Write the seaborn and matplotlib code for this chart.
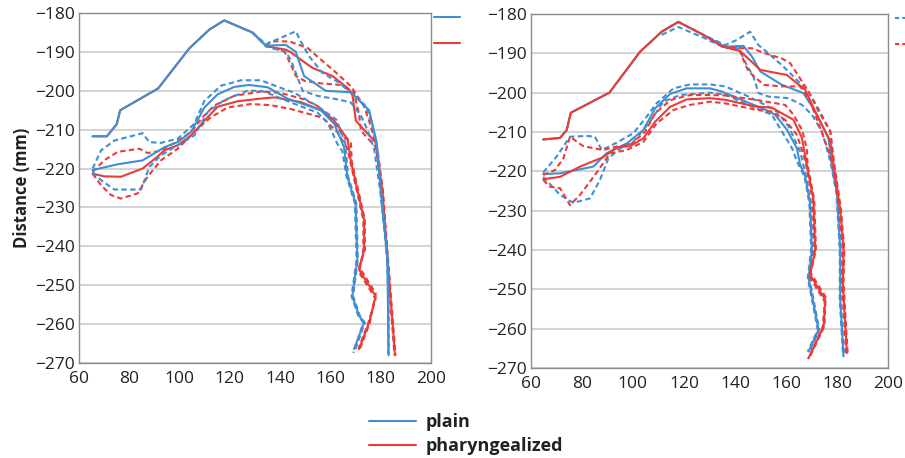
import numpy as np
import pandas as pd
import matplotlib
matplotlib.use("Agg")
import matplotlib.pyplot as plt
from matplotlib.lines import Line2D
import seaborn as sns

# ---------------- data ----------------
conditions = ["plain", "pharyngealized"]
x_ticks = [60, 80, 100, 120, 140, 160, 180, 200]
y_ticks = [-270, -260, -250, -240, -230, -220, -210, -200, -190, -180]

# ---- Left panel: upper contour set ----
A_up_plain_mean_x = [65.4, 71.1, 75.0, 76.4, 91.5, 103.9, 111.8, 117.8, 129.0, 134.4, 142.3, 146.3, 149.6, 158.2, 168.2, 175.5, 178.5, 180.1, 182.8, 183.2]
A_up_plain_mean_y = [-211.7, -211.7, -208.6, -205.0, -199.4, -189.1, -184.3, -181.9, -185.0, -188.4, -188.2, -190.0, -196.2, -200.0, -200.4, -205.0, -213.3, -225.7, -243.0, -268.0]
A_up_phar_mean_x = [65.4, 71.1, 75.0, 76.4, 91.5, 103.9, 111.8, 117.8, 129.0, 134.4, 138.3, 142.3, 144.3, 148.3, 152.9, 160.9, 167.5, 168.9, 170.2, 178.1, 180.8, 182.8, 185.8]
A_up_phar_mean_y = [-211.7, -211.7, -208.6, -205.0, -199.4, -189.1, -184.3, -181.9, -185.0, -188.4, -189.0, -189.4, -190.1, -192.0, -194.1, -196.2, -199.6, -201.3, -207.7, -213.3, -225.7, -243.0, -268.0]
A_up_plain_hi_x = [129.0, 134.4, 140.3, 146.3, 148.3, 151.6, 156.9, 163.5, 168.2, 174.2, 176.8, 178.8, 180.3, 182.9, 183.3, 183.3]
A_up_plain_hi_y = [-185.0, -188.0, -186.4, -184.7, -187.3, -191.1, -195.4, -197.9, -200.5, -203.9, -209.0, -215.0, -225.7, -243.0, -255.0, -267.8]
A_up_plain_lo_x = [129.0, 134.4, 142.3, 144.3, 147.0, 149.0, 154.9, 162.9, 168.2, 172.2, 174.8, 177.5, 179.9, 182.7, 183.1, 183.1]
A_up_plain_lo_y = [-185.0, -188.6, -190.0, -192.0, -196.6, -200.0, -201.3, -202.2, -203.0, -206.4, -210.0, -215.0, -225.7, -243.0, -255.0, -267.8]
A_up_phar_hi_x = [134.4, 136.4, 143.7, 151.0, 156.3, 160.9, 168.2, 173.5, 176.1, 178.8, 181.0, 183.0, 186.0]
A_up_phar_hi_y = [-188.4, -187.3, -187.3, -189.0, -192.0, -194.5, -198.8, -204.0, -209.0, -215.0, -225.7, -243.0, -268.0]
A_up_phar_lo_x = [134.4, 141.7, 143.7, 146.3, 150.0, 156.3, 164.2, 169.5, 171.5, 172.2, 178.1, 180.6, 182.6, 185.6]
A_up_phar_lo_y = [-188.4, -189.8, -192.4, -196.2, -197.5, -198.1, -198.5, -200.7, -206.0, -210.2, -214.5, -225.7, -243.0, -268.0]

# ---- Left panel: lower contour set ----
A_lo_plain_mean_x = [65.4, 70.0, 75.4, 85.3, 94.0, 99.3, 104.6, 109.9, 115.2, 121.8, 127.8, 135.1, 143.0, 156.3, 161.6, 165.5, 166.8, 170.1, 170.8, 168.8, 171.5, 173.5, 169.5]
A_lo_plain_mean_y = [-220.4, -219.7, -218.9, -217.9, -214.5, -213.2, -210.6, -204.3, -200.9, -199.0, -198.5, -199.1, -202.0, -205.0, -208.5, -214.5, -222.0, -228.9, -243.4, -252.8, -257.9, -259.6, -266.4]
A_lo_phar_mean_x = [65.4, 70.0, 76.7, 85.3, 91.3, 94.0, 99.3, 104.6, 109.9, 115.2, 123.1, 132.4, 137.7, 148.3, 156.3, 161.6, 166.9, 168.2, 173.5, 173.5, 171.5, 178.1, 175.5, 171.5]
A_lo_phar_mean_y = [-221.3, -222.0, -222.1, -220.0, -216.9, -215.3, -214.0, -211.5, -207.7, -204.1, -202.7, -202.0, -201.7, -202.9, -205.0, -207.7, -212.4, -218.0, -233.2, -240.9, -246.0, -252.8, -259.6, -266.4]
A_lo_plain_hi_x = [65.4, 68.8, 74.1, 85.3, 88.0, 92.6, 99.3, 105.9, 109.9, 116.5, 124.5, 132.4, 136.4, 145.6, 154.9, 160.2, 162.6, 166.0, 167.1, 170.4, 171.0, 169.1, 171.8, 173.8, 169.8]
A_lo_plain_hi_y = [-220.0, -215.3, -212.8, -210.9, -213.2, -213.4, -212.3, -208.5, -202.6, -198.7, -197.3, -197.3, -198.3, -200.5, -203.9, -206.4, -207.5, -213.5, -222.0, -228.9, -243.4, -252.8, -257.9, -259.6, -266.8]
A_lo_plain_lo_x = [65.4, 68.8, 74.1, 84.7, 88.0, 92.6, 99.3, 105.9, 111.2, 117.8, 127.1, 132.4, 136.4, 144.3, 154.9, 158.9, 162.9, 164.8, 166.5, 169.8, 170.5, 168.5, 171.2, 173.2, 169.2]
A_lo_plain_lo_y = [-220.9, -223.0, -225.4, -225.4, -219.6, -216.6, -214.0, -211.5, -205.5, -202.4, -200.0, -200.0, -200.9, -203.0, -205.6, -208.1, -213.7, -215.5, -222.0, -228.9, -243.4, -252.8, -257.9, -259.6, -267.4]
A_lo_phar_hi_x = [65.4, 70.0, 75.4, 84.0, 87.3, 92.0, 98.0, 104.6, 109.2, 113.8, 121.8, 132.4, 140.0, 149.6, 154.9, 160.9, 165.5, 168.2, 168.6, 173.8, 173.8, 171.5, 178.1, 175.8, 171.8]
A_lo_phar_hi_y = [-220.9, -217.9, -215.7, -214.9, -216.0, -215.5, -213.4, -210.6, -206.8, -203.8, -201.3, -200.2, -200.5, -202.2, -203.9, -207.3, -212.0, -213.2, -218.3, -233.2, -240.9, -245.3, -252.1, -259.6, -266.4]
A_lo_phar_lo_x = [65.4, 68.8, 72.7, 76.7, 83.3, 87.3, 92.6, 99.3, 107.2, 112.5, 119.2, 128.4, 136.4, 144.3, 156.9, 162.9, 166.9, 167.9, 173.2, 173.2, 171.5, 178.1, 175.2, 171.2]
A_lo_phar_lo_y = [-221.3, -224.3, -226.8, -227.7, -226.4, -222.1, -217.9, -214.9, -209.8, -206.8, -204.3, -203.4, -203.7, -204.7, -206.9, -210.7, -214.9, -218.0, -233.2, -240.9, -246.7, -253.5, -259.6, -266.4]

# ---- Right panel: upper contour set ----
B_up_plain_mean_x = [64.9, 71.5, 74.1, 75.7, 90.8, 102.8, 111.3, 117.8, 127.6, 136.1, 143.3, 146.6, 149.9, 158.3, 166.8, 171.4, 176.6, 177.9, 179.9, 181.2, 181.2, 182.5]
B_up_plain_mean_y = [-211.9, -211.5, -209.5, -205.1, -200.0, -189.6, -184.5, -182.0, -185.3, -188.3, -188.1, -190.8, -194.6, -198.0, -200.1, -204.8, -211.5, -218.3, -225.5, -239.9, -252.6, -267.0]
B_up_phar_mean_x = [64.9, 71.5, 74.1, 75.7, 90.8, 102.8, 111.3, 117.8, 127.6, 134.8, 142.0, 149.9, 160.3, 167.5, 171.4, 177.3, 178.6, 181.2, 182.5, 182.2, 183.8]
B_up_phar_mean_y = [-211.9, -211.5, -209.5, -205.1, -200.0, -189.6, -184.5, -182.0, -185.3, -188.2, -189.4, -194.2, -195.5, -199.3, -204.8, -212.4, -218.3, -229.7, -239.9, -248.4, -266.2]
B_up_plain_hi_x = [111.3, 117.8, 127.6, 136.1, 140.7, 145.9, 149.2, 153.8, 159.0, 164.9, 168.8, 172.7, 177.3, 178.2, 180.1, 181.4, 181.4, 182.7]
B_up_plain_hi_y = [-184.5, -182.0, -185.3, -187.9, -186.6, -184.5, -187.9, -190.4, -193.4, -197.2, -199.7, -204.8, -209.8, -216.0, -225.5, -239.9, -252.6, -267.0]
B_up_plain_lo_x = [111.3, 117.8, 127.6, 136.1, 141.4, 144.6, 147.2, 149.2, 153.1, 161.0, 166.2, 170.1, 174.0, 176.6, 177.6, 179.7, 181.0, 181.0, 182.3]
B_up_plain_lo_y = [-185.3, -183.3, -186.0, -188.6, -188.7, -193.0, -195.9, -200.1, -201.0, -201.4, -203.1, -205.6, -209.8, -215.7, -218.3, -225.5, -239.9, -252.6, -267.0]
B_up_phar_hi_x = [134.8, 142.7, 146.6, 151.8, 158.3, 161.6, 167.5, 172.1, 177.3, 178.9, 181.5, 182.8, 182.5, 184.1]
B_up_phar_hi_y = [-188.2, -188.7, -188.7, -190.0, -191.3, -192.5, -198.4, -203.5, -209.8, -218.3, -229.7, -239.9, -248.4, -266.2]
B_up_phar_lo_x = [134.8, 142.0, 143.3, 145.3, 151.2, 158.3, 165.5, 168.8, 171.4, 175.3, 178.3, 180.9, 182.2, 181.9, 183.5]
B_up_phar_lo_y = [-188.2, -189.4, -191.7, -194.6, -198.0, -198.4, -198.4, -201.4, -205.6, -212.4, -218.3, -229.7, -239.9, -248.4, -266.2]

# ---- Right panel: lower contour set ----
B_lo_plain_mean_x = [64.9, 71.5, 84.5, 89.7, 97.6, 104.1, 108.7, 114.6, 121.1, 130.2, 134.8, 144.0, 151.8, 155.7, 160.3, 164.2, 165.5, 167.5, 169.4, 170.1, 168.8, 172.7, 168.8]
B_lo_plain_mean_y = [-220.7, -220.5, -218.8, -215.4, -212.9, -209.5, -204.0, -200.3, -198.9, -198.9, -199.7, -202.2, -204.3, -205.6, -209.4, -214.1, -218.3, -221.3, -228.1, -239.9, -247.1, -260.3, -265.8]
B_lo_phar_mean_x = [64.9, 71.5, 79.3, 88.4, 93.7, 98.9, 104.1, 108.7, 114.6, 121.1, 130.2, 136.1, 147.9, 154.4, 162.9, 166.2, 168.1, 170.7, 171.4, 169.4, 175.3, 174.7, 168.8]
B_lo_phar_mean_y = [-222.0, -221.4, -218.8, -216.4, -213.9, -213.6, -211.6, -207.4, -203.6, -201.7, -201.4, -201.8, -203.5, -203.8, -206.9, -211.5, -218.3, -227.2, -239.9, -246.3, -252.6, -259.4, -267.5]
B_lo_plain_hi_x = [64.9, 70.1, 75.4, 81.9, 85.2, 87.8, 93.7, 100.2, 105.4, 109.3, 115.9, 122.4, 130.2, 136.1, 145.3, 151.8, 156.4, 161.0, 165.5, 167.8, 169.7, 170.4, 169.1, 173.0, 169.1]
B_lo_plain_hi_y = [-220.3, -216.3, -211.2, -211.0, -211.2, -214.6, -212.7, -210.3, -206.1, -202.7, -198.9, -197.9, -197.9, -198.4, -201.0, -203.1, -204.8, -208.6, -214.9, -221.3, -228.1, -239.9, -247.1, -260.3, -265.8]
B_lo_plain_lo_x = [64.9, 71.5, 76.7, 83.2, 87.1, 90.4, 95.0, 100.2, 106.7, 111.9, 118.5, 130.2, 136.1, 147.9, 154.4, 158.3, 162.3, 164.2, 167.2, 169.1, 169.8, 168.5, 172.4, 168.5]
B_lo_plain_lo_y = [-221.4, -226.0, -228.0, -226.9, -222.2, -216.7, -214.2, -212.5, -207.4, -202.3, -200.6, -200.0, -200.5, -203.9, -205.6, -209.8, -214.1, -217.4, -221.3, -228.1, -239.9, -247.1, -260.3, -265.8]
B_lo_phar_hi_x = [64.9, 69.5, 72.8, 75.4, 80.6, 88.4, 93.7, 98.9, 104.8, 108.7, 114.6, 122.4, 130.2, 136.1, 147.9, 159.6, 162.9, 166.2, 168.1, 168.4, 171.0, 171.7, 169.6, 175.5, 175.0, 169.0]
B_lo_phar_hi_y = [-220.9, -219.7, -216.7, -211.2, -213.6, -214.6, -213.7, -213.3, -209.9, -205.3, -201.9, -200.6, -200.6, -200.7, -201.8, -203.1, -205.6, -209.4, -214.1, -218.3, -227.2, -239.9, -245.8, -252.0, -259.4, -267.5]
B_lo_phar_lo_x = [64.9, 67.5, 71.5, 75.4, 79.3, 85.2, 91.1, 97.6, 104.1, 109.3, 115.9, 122.4, 130.2, 136.1, 147.9, 154.4, 159.6, 164.2, 166.8, 167.8, 170.4, 171.1, 169.2, 175.1, 174.4, 168.6]
B_lo_phar_lo_y = [-222.2, -223.9, -224.3, -228.6, -226.0, -220.9, -215.4, -214.6, -212.5, -207.8, -204.4, -203.1, -202.3, -202.7, -204.3, -204.8, -206.9, -210.7, -215.7, -218.3, -227.2, -239.9, -246.8, -253.1, -259.4, -267.7]

# ---------------- build tidy table ----------------
curves = [
    ("A", "up", "plain", "mean", A_up_plain_mean_x, A_up_plain_mean_y),
    ("A", "up", "pharyngealized", "mean", A_up_phar_mean_x, A_up_phar_mean_y),
    ("A", "up", "plain", "hi", A_up_plain_hi_x, A_up_plain_hi_y),
    ("A", "up", "plain", "lo", A_up_plain_lo_x, A_up_plain_lo_y),
    ("A", "up", "pharyngealized", "hi", A_up_phar_hi_x, A_up_phar_hi_y),
    ("A", "up", "pharyngealized", "lo", A_up_phar_lo_x, A_up_phar_lo_y),
    ("A", "lo", "plain", "mean", A_lo_plain_mean_x, A_lo_plain_mean_y),
    ("A", "lo", "pharyngealized", "mean", A_lo_phar_mean_x, A_lo_phar_mean_y),
    ("A", "lo", "plain", "hi", A_lo_plain_hi_x, A_lo_plain_hi_y),
    ("A", "lo", "plain", "lo", A_lo_plain_lo_x, A_lo_plain_lo_y),
    ("A", "lo", "pharyngealized", "hi", A_lo_phar_hi_x, A_lo_phar_hi_y),
    ("A", "lo", "pharyngealized", "lo", A_lo_phar_lo_x, A_lo_phar_lo_y),
    ("B", "up", "plain", "mean", B_up_plain_mean_x, B_up_plain_mean_y),
    ("B", "up", "pharyngealized", "mean", B_up_phar_mean_x, B_up_phar_mean_y),
    ("B", "up", "plain", "hi", B_up_plain_hi_x, B_up_plain_hi_y),
    ("B", "up", "plain", "lo", B_up_plain_lo_x, B_up_plain_lo_y),
    ("B", "up", "pharyngealized", "hi", B_up_phar_hi_x, B_up_phar_hi_y),
    ("B", "up", "pharyngealized", "lo", B_up_phar_lo_x, B_up_phar_lo_y),
    ("B", "lo", "plain", "mean", B_lo_plain_mean_x, B_lo_plain_mean_y),
    ("B", "lo", "pharyngealized", "mean", B_lo_phar_mean_x, B_lo_phar_mean_y),
    ("B", "lo", "plain", "hi", B_lo_plain_hi_x, B_lo_plain_hi_y),
    ("B", "lo", "plain", "lo", B_lo_plain_lo_x, B_lo_plain_lo_y),
    ("B", "lo", "pharyngealized", "hi", B_lo_phar_hi_x, B_lo_phar_hi_y),
    ("B", "lo", "pharyngealized", "lo", B_lo_phar_lo_x, B_lo_phar_lo_y),
]
rows = []
for panel, cset, cond, stat, xs, ys in curves:
    cid = f"{panel}_{cset}_{cond}_{stat}"
    for i, (xv, yv) in enumerate(zip(xs, ys)):
        rows.append(dict(panel=panel, cond=cond, stat=stat, curve=cid, order=i, x=xv, y=yv))
df = pd.DataFrame(rows)

# ---------------- styling ----------------
sns.set_theme(style="white")
plt.rcParams["font.family"] = ["Open Sans", "DejaVu Sans"]
plt.rcParams["axes.unicode_minus"] = True

BLUE = "#3f8fd2"
RED = "#ec3b36"
palette = {"plain": BLUE, "pharyngealized": RED}
dashes = {"mean": "", "hi": (2.6, 1.6), "lo": (2.6, 1.6)}

fig = plt.figure(figsize=(9.05, 4.58), dpi=100)
axA = fig.add_axes([0.0873, 0.2074, 0.3886, 0.7642])
axB = fig.add_axes([0.5864, 0.1965, 0.3951, 0.7729])

for ax, panel, horder in [(axA, "A", ["pharyngealized", "plain"]),
                          (axB, "B", ["plain", "pharyngealized"])]:
    sub = df[df.panel == panel].sort_values(["curve", "order"])
    sns.lineplot(data=sub, x="x", y="y", hue="cond", hue_order=horder,
                 style="stat", style_order=["hi", "lo", "mean"], dashes=dashes,
                 units="curve", estimator=None, sort=False, palette=palette,
                 linewidth=1.5, legend=False, ax=ax)
    ax.set_xlim(60, 200)
    ax.set_ylim(-270, -180)
    ax.set_xticks(x_ticks)
    ax.set_yticks(y_ticks)
    ax.yaxis.grid(True, color="#d4d4d4", linewidth=1.5)
    ax.xaxis.grid(False)
    ax.set_axisbelow(True)
    for s in ax.spines.values():
        s.set_visible(True)
        s.set_color("#8c8c8c")
        s.set_linewidth(1.0)
    ax.tick_params(axis="both", labelsize=12.5, colors="#222222", length=0)
    ax.tick_params(axis="y", pad=3)
    ax.tick_params(axis="x", pad=6)
    ax.set_xlabel("")
    ax.set_ylabel("")

axA.set_ylabel("Distance (mm)", fontsize=12, fontweight="bold", color="#222222", labelpad=3)

# cut-off legend fragments at the right of each panel
for x0, x1, y, col, ls in [(0.480, 0.508, 0.963, BLUE, "-"),
                           (0.480, 0.508, 0.906, RED, "-"),
                           (0.989, 1.0, 0.960, BLUE, (0, (2, 1.5))),
                           (0.989, 1.0, 0.903, RED, (0, (2, 1.5)))]:
    fig.add_artist(Line2D([x0, x1], [y, y], transform=fig.transFigure,
                          color=col, linewidth=1.5, linestyle=ls))

# bottom legend
handles = [Line2D([], [], color=BLUE, linewidth=1.5),
           Line2D([], [], color=RED, linewidth=1.5)]
leg = fig.legend(handles, conditions, loc="center", bbox_to_anchor=(0.515, 0.052),
                 ncol=1, frameon=False, handlelength=2.6, handletextpad=0.55,
                 labelspacing=0.3, prop={"weight": "bold", "size": 13})
for t in leg.get_texts():
    t.set_color("#222222")

fig.savefig("out.png", dpi=100)
